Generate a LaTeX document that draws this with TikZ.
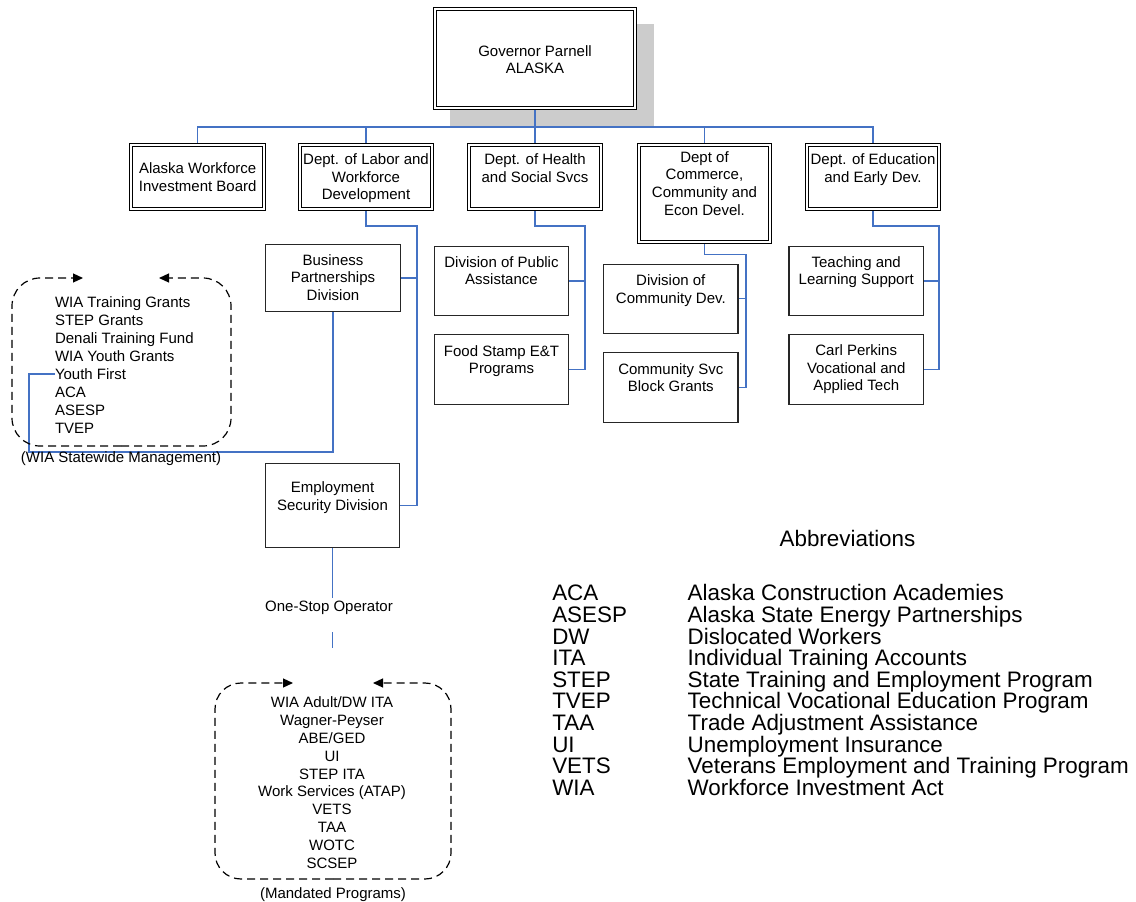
\documentclass[tikz,border=0pt]{standalone}
\usepackage{fontspec}
\setmainfont{Liberation Sans}
\usetikzlibrary{arrows.meta,backgrounds}
\definecolor{connblue}{RGB}{68,114,196}
\definecolor{shadowgray}{RGB}{204,204,204}
\begin{document}
\begin{tikzpicture}[x=1pt,y=-1pt,
  dbox/.style={draw=black, line width=1.1pt, double=white, double distance=2pt, fill=white, inner sep=0pt, outer sep=0pt},
  sbox/.style={draw=black!85, line width=1.2pt, fill=white, inner sep=0pt, outer sep=0pt},
  txt/.style={inner sep=0pt, outer sep=0pt, align=center, font=\fontsize{15}{17.5}\selectfont},
  lbl/.style={inner sep=0pt, outer sep=0pt, font=\fontsize{15}{18}\selectfont},
  abbr/.style={inner sep=0pt, outer sep=0pt, font=\fontsize{22.4}{21.6}\selectfont},
  conn/.style={draw=connblue, line width=1.2pt},
  dashbox/.style={draw=black, line width=1.2pt, dash pattern=on 8pt off 5pt, -{Triangle[length=10pt,width=9pt]}},
]
\useasboundingbox (0,0) rectangle (1136,902);

% ---- boxes ----
\node[dbox, minimum width=199.8pt, minimum height=98.8pt] (gov) at (535,58.5) {};
\node[dbox, minimum width=132.8pt, minimum height=63.8pt] (awib) at (197.5,177) {};
\node[dbox, minimum width=131.8pt, minimum height=63.8pt] (labor) at (366,177) {};
\node[dbox, minimum width=131.8pt, minimum height=63.8pt] (health) at (535,177) {};
\node[dbox, minimum width=130.8pt, minimum height=96.8pt] (comm) at (704.5,193.5) {};
\node[dbox, minimum width=131.8pt, minimum height=63.8pt] (edu) at (873,177) {};

\node[sbox, minimum width=134.8pt, minimum height=66.8pt] (bpd) at (333,278) {};
\node[sbox, minimum width=133.8pt, minimum height=83.8pt] (esd) at (332.5,505.5) {};
\node[sbox, minimum width=133.8pt, minimum height=69.7pt] (dpa) at (501.5,281) {};
\node[sbox, minimum width=133.8pt, minimum height=69.8pt] (fs) at (501.5,369.5) {};
\node[sbox, minimum width=134.4pt, minimum height=69.3pt] (dcd) at (670.8,298.75) {};
\node[sbox, minimum width=134.4pt, minimum height=69.8pt] (csbg) at (670.8,387.5) {};
\node[sbox, minimum width=134.4pt, minimum height=69.7pt] (teach) at (856.2,281) {};
\node[sbox, minimum width=134.4pt, minimum height=69.8pt] (carl) at (856.2,369.5) {};

% ---- box texts ----
\node[txt, anchor=north, font=\fontsize{15}{17.3}\selectfont] (govt) at (535,45.3) {Governor Parnell\\ALASKA};
\node[txt, anchor=north] (awibt) at (197.7,162.9) {Alaska Workforce\\Investment Board};
\node[txt, anchor=north] (labort) at (366,153.9) {Dept. of Labor and\\Workforce\\Development};
\node[txt, anchor=north] (healtht) at (535,153.9) {Dept. of Health\\and Social Svcs};
\node[txt, anchor=north, font=\fontsize{15}{17.8}\selectfont] (commt) at (704.5,151.3) {Dept of\\Commerce,\\Community and\\Econ Devel.};
\node[txt, anchor=north] (edut) at (873,153.9) {Dept. of Education\\and Early Dev.};
\node[txt, anchor=north] (bpdt) at (333,254.6) {Business\\Partnerships\\Division};
\node[txt, anchor=north] (dpat) at (501.5,256.6) {Division of Public\\Assistance};
\node[txt, anchor=north] (fst) at (501.5,345.5) {Food Stamp E\&T\\Programs};
\node[txt, anchor=north] (dcdt) at (670.8,275) {Division of\\Community Dev.};
\node[txt, anchor=north] (csbgt) at (670.8,363.4) {Community Svc\\Block Grants};
\node[txt, anchor=north] (teacht) at (856.2,256.6) {Teaching and\\Learning Support};
\node[txt, anchor=north] (carlt) at (856.2,345.1) {Carl Perkins\\Vocational and\\Applied Tech};
\node[txt, anchor=north] (esdt) at (332.5,481.9) {Employment\\Security Division};

% ---- lists and labels ----
\node[txt, align=left, anchor=north west, font=\fontsize{15}{18.08}\selectfont] (wialist) at (55,296.3)
  {WIA Training Grants\\STEP Grants\\Denali Training Fund\\WIA Youth Grants\\Youth First\\ACA\\ASESP\\TVEP};
\node[lbl, anchor=base] (wiasm) at (121,462.1) {(WIA Statewide Management)};
\node[lbl, anchor=base] (oso) at (329,611.4) {One-Stop Operator};
\node[txt, anchor=north, font=\fontsize{15}{17.9}\selectfont] (mandlist) at (332,696.6)
  {WIA Adult/DW ITA\\Wagner-Peyser\\ABE/GED\\UI\\STEP ITA\\Work Services (ATAP)\\VETS\\TAA\\WOTC\\SCSEP};
\node[lbl, anchor=base] (mand) at (333,898.4) {(Mandated Programs)};

\node[abbr, anchor=base] (abtitle) at (847.5,546) {Abbreviations};
\foreach \a/\d [count=\i from 0] in {ACA/Alaska Construction Academies, ASESP/Alaska State Energy Partnerships, DW/Dislocated Workers, ITA/Individual Training Accounts, STEP/State Training and Employment Program, TVEP/Technical Vocational Education Program, TAA/Trade Adjustment Assistance, UI/Unemployment Insurance, VETS/Veterans Employment and Training Program, WIA/Workforce Investment Act}{
  \node[abbr, anchor=base west] (ab\i) at (552.3,{600.8+21.6*\i}) {\a};
  \node[abbr, anchor=base west] (df\i) at (687.7,{600.8+21.6*\i}) {\d};
}

% ---- dashed program boxes ----
\draw[dashbox, rounded corners=28pt] (121,446) -- (12,446) -- (12,278) -- (83,278);
\draw[dashbox, rounded corners=28pt] (121,446) -- (231,446) -- (231,278) -- (159,278);
\draw[dashbox, rounded corners=26pt] (333,879) -- (215,879) -- (215,683) -- (293,683);
\draw[dashbox, rounded corners=26pt] (333,879) -- (451,879) -- (451,683) -- (373,683);

% ---- coordinates ----
\coordinate (busy) at (0,127);
\coordinate (lj) at (417,226);
\coordinate (hj) at (585,226);
\coordinate (cj) at (746,254.4);
\coordinate (ej) at (939,226);
\coordinate (wl) at (29,452);
\coordinate (yf) at (55,374);
\coordinate (os1) at (332.5,598);
\coordinate (os2) at (332.5,632);
\coordinate (os3) at (332.5,648);

\begin{pgfonlayer}{background}
  \fill[shadowgray] (450,24) rectangle (654,127);
  % governor bus
  \draw[conn] (gov.south) -- (gov.south |- busy);
  \draw[conn] (awib.north) -- (awib.north |- busy) -- (edu.north |- busy) -- (edu.north);
  \draw[conn] (labor.north) -- (labor.north |- busy);
  \draw[conn] (health.north) -- (health.north |- busy);
  \draw[conn] (comm.north) -- (comm.north |- busy);
  % labor
  \draw[conn] (labor.south) |- (lj) |- (esd.east);
  \draw[conn] (bpd.east) -- (bpd.east -| lj);
  \draw[conn] (bpd.south) |- (wl) |- (yf);
  \draw[conn] (esd.south) -- (os1);
  \draw[conn] (os2) -- (os3);
  % health
  \draw[conn] (health.south) |- (hj) |- (fs.east);
  \draw[conn] (dpa.east) -- (dpa.east -| hj);
  % commerce
  \draw[conn] (comm.south) |- (cj) |- (csbg.east);
  \draw[conn] (dcd.east) -- (dcd.east -| cj);
  % education
  \draw[conn] (edu.south) |- (ej) |- (carl.east);
  \draw[conn] (teach.east) -- (teach.east -| ej);
\end{pgfonlayer}
\end{tikzpicture}
\end{document}
